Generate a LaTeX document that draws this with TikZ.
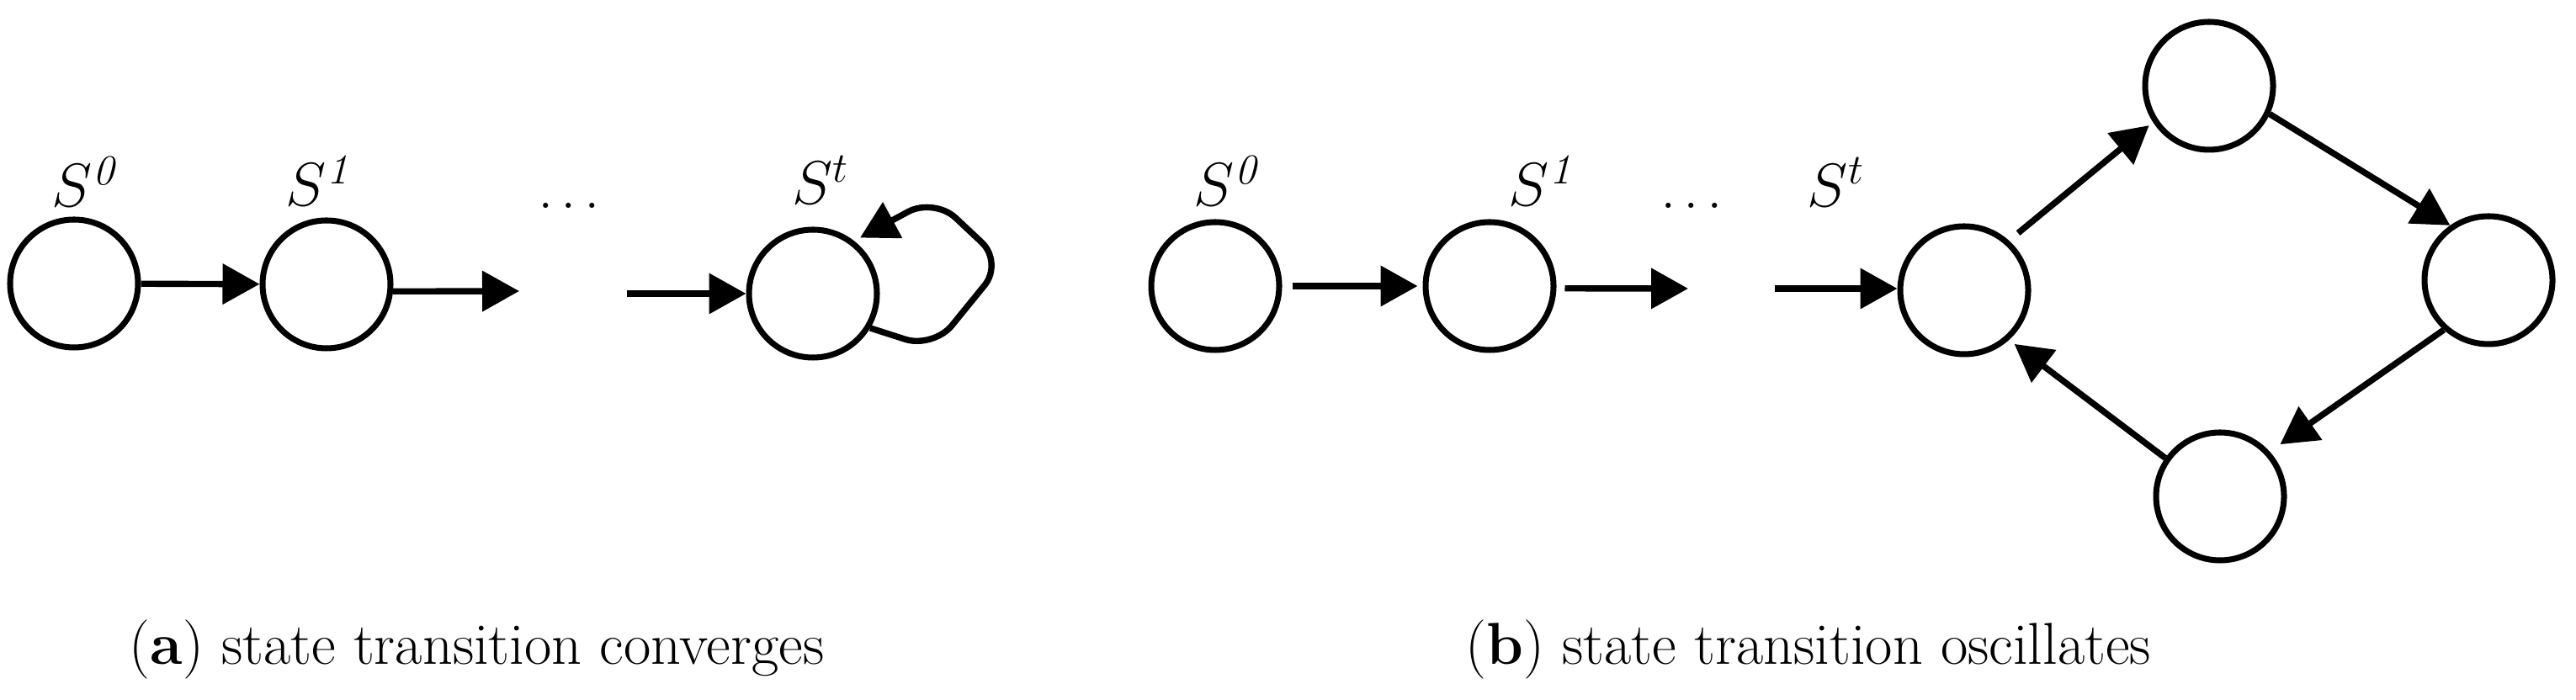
\documentclass[tikz,border=0pt]{standalone}
\usepackage{amsmath,amssymb}
\usepackage{tikz}
\usetikzlibrary{positioning,arrows.meta}
\tikzset{%
  state/.style={draw, circle, line width=2pt, minimum size=1.52cm, inner sep=0pt},% state circle
  trans/.style={line width=2.1pt, ->, >={Triangle[length=4.4mm, width=4.7mm]}},% transition arrow
  slabel/.style={inner sep=0pt, font=\fontsize{21}{25}\selectfont},% state name above circle
  subcap/.style={inner sep=0pt, anchor=base west, font=\fontsize{20}{24}\selectfont}% sub figure caption
}
\newcommand*{\skipdots}{.\kern0.09cm.\kern0.09cm.}

\begin{document}
\begin{tikzpicture}
\useasboundingbox (0,0) rectangle (30.61,8.32);
\def\x{0}
\def\y{0}
% (a) converges
\node[state] (a0) at (0.88 + \x, 4.95 + \y) {};
\node[state] (a1) at (3.88 + \x, 4.94 + \y) {};
\node[state] (ast) at (9.66 + \x, 4.83 + \y) {};
\coordinate (a1out) at (6.17 + \x, 4.86 + \y);
\coordinate (astin) at (7.45 + \x, 4.83 + \y);
\coordinate (lp1) at (11.09 + \x, 4.18 + \y);
\coordinate (lp2) at (11.92 + \x, 5.20 + \y);
\coordinate (lp3) at (11.10 + \x, 5.97 + \y);
\draw[trans] (a0) -- (a1);
\draw[trans] (a1.-6) -- (a1out);
\draw[trans] (astin) -- (ast);
\draw[trans, rounded corners=0.35cm, shorten >=0.08cm] (ast.-31) -- (lp1) -- (lp2) -- (lp3) -- (ast.52);

\node[slabel, above=0.11cm of a0, xshift=0.15cm] (la0) {$S^{\mathit{0}}$};
\node[slabel, above=0.13cm of a1, xshift=-0.07cm] (la1) {$S^{\mathit{1}}$};
\node[slabel, above=0.26cm of ast, xshift=0.09cm] (last) {$S^{t}$};
\node[slabel, anchor=base] (adots) at (6.76 + \x, 5.84 + \y) {\skipdots};
\node[subcap] (capa) at (1.53 + \x, 0.42 + \y) {(\textbf{a}) state transition converges};

%%%%
% (b) oscillates
\def\x{13.56}
\node[state] (b0) at (0.88 + \x, 4.92 + \y) {};
\node[state] (b1) at (4.14 + \x, 4.92 + \y) {};
\node[state] (bst) at (9.78 + \x, 4.87 + \y) {};
\node[state] (bup) at (12.69 + \x, 7.30 + \y) {};
\node[state] (bri) at (16.01 + \x, 4.99 + \y) {};
\node[state] (blo) at (12.82 + \x, 2.42 + \y) {};
\coordinate (b1out) at (6.50 + \x, 4.89 + \y);
\coordinate (bstin) at (7.53 + \x, 4.89 + \y);
\draw[trans, shorten <=0.12cm, shorten >=0.06cm] (b0) -- (b1);
\draw[trans, shorten <=0.1cm] (b1.-2) -- (b1out);
\draw[trans] (bstin) -- (bstin -| bst.west) node[slabel, midway, above=0.94cm] (lbst) {$S^{t}$};
\draw[trans, shorten <=0.14cm, shorten >=0.06cm] (bst.48) -- (bup.213);
\draw[trans] (bup.-25) -- (bri.125);
\draw[trans, shorten >=0.15cm] (bri.228) -- (blo.42);
\draw[trans, shorten >=0.08cm] (blo.145) -- (bst.-48);

\node[slabel, above=0.15cm of b0, xshift=0.16cm] (lb0) {$S^{\mathit{0}}$};
\node[slabel, above=0.15cm of b1, xshift=0.64cm] (lb1) {$S^{\mathit{1}}$};
\node[slabel, anchor=base] (bdots) at (6.54 + \x, 5.84 + \y) {\skipdots};
\node[subcap] (capb) at (3.85 + \x, 0.42 + \y) {(\textbf{b}) state transition oscillates};
\end{tikzpicture}
\end{document}
